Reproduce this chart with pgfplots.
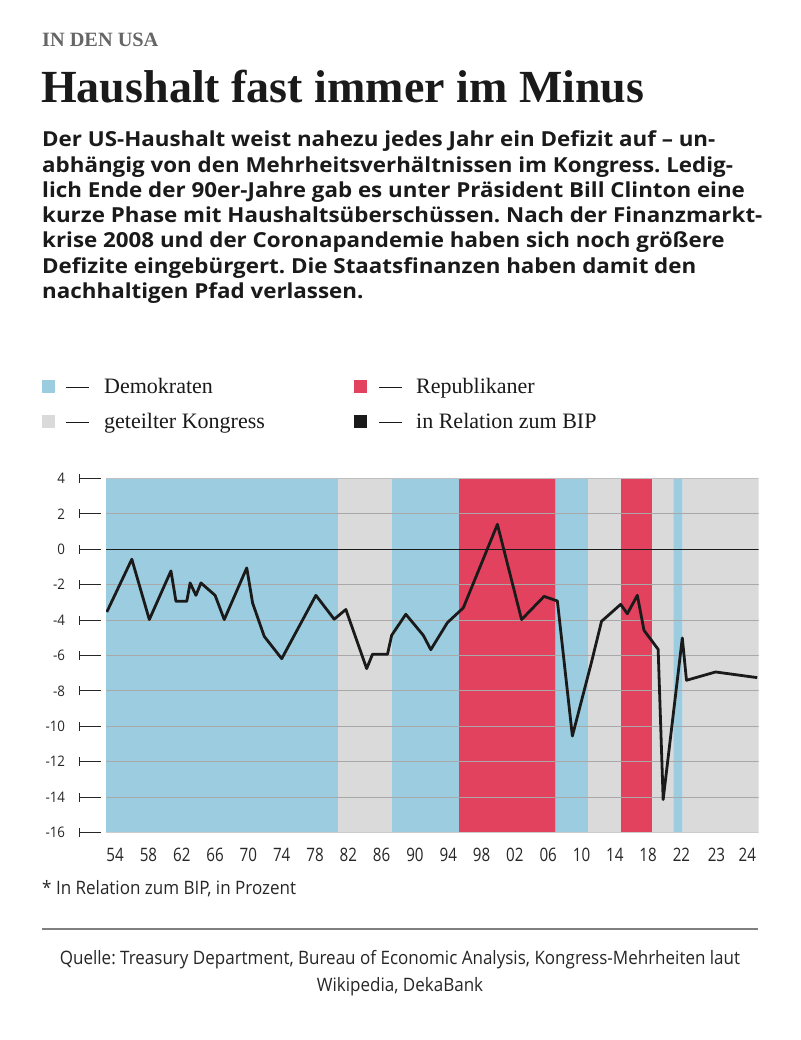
\documentclass[border=0pt]{standalone}
\usepackage{fontspec}
\setmainfont{Liberation Serif}
\newfontfamily\sansfont{Open Sans}[FakeStretch=0.92]
\newfontfamily\bodyfont{Open Sans}[FakeStretch=1.08]
\newfontfamily\condfont{Open Sans}[FakeStretch=0.82]
\usepackage{pgfplots}
\pgfplotsset{compat=1.18}
\frenchspacing

\definecolor{dem}{HTML}{9CCCE0}
\definecolor{rep}{HTML}{E3425F}
\definecolor{split}{HTML}{DADADA}
\definecolor{gridc}{HTML}{A8A8A8}
\definecolor{ink}{HTML}{1A1A1A}

% y tick label with the little "|--" marker
\newcommand\yt[1]{#1\hspace{13.8pt}\rule[0.7pt]{0.9pt}{9pt}\rule[4.75pt]{21pt}{0.9pt}}

\begin{document}
\begin{tikzpicture}
\fill[white] (0,0) rectangle (800pt,-1040pt);

% header
\node[anchor=base west, inner sep=0, text=black!60] at (42pt,-47pt)
  {\fontsize{20.3}{20.3}\selectfont\bfseries IN DEN USA};
\node[anchor=base west, inner sep=0, text=ink] at (41pt,-103pt)
  {\fontsize{46}{46}\selectfont\bfseries Haushalt fast immer im Minus};

\begin{scope}[every node/.style={anchor=base west, inner sep=0, text=ink,
    font=\bodyfont\bfseries\fontsize{20.7}{20.7}\selectfont}]
\node at (42pt,-147pt) {Der US-Haushalt weist nahezu jedes Jahr ein Defizit auf – un-};
\node at (42pt,-172.2pt) {abhängig von den Mehrheitsverhältnissen im Kongress. Ledig-};
\node at (42pt,-197.4pt) {lich Ende der 90er-Jahre gab es unter Präsident Bill Clinton eine};
\node at (42pt,-222.6pt) {kurze Phase mit Haushaltsüberschüssen. Nach der Finanzmarkt-};
\node at (42pt,-247.8pt) {krise 2008 und der Coronapandemie haben sich noch größere};
\node at (42pt,-273pt) {Defizite eingebürgert. Die Staatsfinanzen haben damit den};
\node at (42pt,-298.2pt) {nachhaltigen Pfad verlassen.};
\end{scope}

% legend
\fill[dem] (42pt,-379.5pt) rectangle (55pt,-392.5pt);
\fill[split] (42pt,-414.5pt) rectangle (55pt,-427.5pt);
\fill[rep] (354pt,-379.5pt) rectangle (367pt,-392.5pt);
\fill[ink] (354pt,-414.5pt) rectangle (367pt,-427.5pt);
\draw[ink, line width=1pt] (66pt,-387pt) -- (89pt,-387pt);
\draw[ink, line width=1pt] (66pt,-422pt) -- (89pt,-422pt);
\draw[ink, line width=1pt] (379pt,-387pt) -- (402pt,-387pt);
\draw[ink, line width=1pt] (379pt,-422pt) -- (402pt,-422pt);
\begin{scope}[every node/.style={anchor=base west, inner sep=0, text=ink,
    font=\fontsize{22}{22}\selectfont}]
\node at (104pt,-393pt) {Demokraten};
\node at (104pt,-428pt) {geteilter Kongress};
\node at (416pt,-393pt) {Republikaner};
\node at (416pt,-428pt) {in Relation zum BIP};
\end{scope}

\begin{axis}[
  at={(106pt,-832.5pt)}, anchor=south west,
  scale only axis, width=652.5pt, height=354pt,
  xmin=1952.9, xmax=2031.25, ymin=-16, ymax=4,
  axis line style={draw=none},
  major tick length=0pt,
  ytick={-16,-14,...,4},
  yticklabels={\yt{-16},\yt{-14},\yt{-12},\yt{-10},\yt{-8},\yt{-6},\yt{-4},\yt{-2},\yt{0},\yt{2},\yt{4}},
  xtick={1954,1958,...,2022,2026.2,2029.9},
  xticklabels={54,58,62,66,70,74,78,82,86,90,94,98,02,06,10,14,18,22,23,24},
  tick label style={text=black!85, inner sep=0pt},
  yticklabel style={font=\sansfont\fontsize{14.5}{14.5}\selectfont, anchor=base east, xshift=-5pt, yshift=-5.2pt},
  xticklabel style={font=\condfont\fontsize{18.5}{18.5}\selectfont, anchor=base, yshift=-29.2pt},
]
% congress majorities
\addplot[fill=dem, draw=none] coordinates {(1952.9,-16) (1952.9,4) (1980.77,4) (1980.77,-16) (1952.9,-16)};
\addplot[fill=split, draw=none] coordinates {(1980.77,-16) (1980.77,4) (1987.25,4) (1987.25,-16) (1980.77,-16)};
\addplot[fill=dem, draw=none] coordinates {(1987.25,-16) (1987.25,4) (1995.3,4) (1995.3,-16) (1987.25,-16)};
\addplot[fill=rep, draw=none] coordinates {(1995.3,-16) (1995.3,4) (2006.88,4) (2006.88,-16) (1995.3,-16)};
\addplot[fill=dem, draw=none] coordinates {(2006.88,-16) (2006.88,4) (2010.78,4) (2010.78,-16) (2006.88,-16)};
\addplot[fill=split, draw=none] coordinates {(2010.78,-16) (2010.78,4) (2014.74,4) (2014.74,-16) (2010.78,-16)};
\addplot[fill=rep, draw=none] coordinates {(2014.74,-16) (2014.74,4) (2018.47,4) (2018.47,-16) (2014.74,-16)};
\addplot[fill=split, draw=none] coordinates {(2018.47,-16) (2018.47,4) (2021.02,4) (2021.02,-16) (2018.47,-16)};
\addplot[fill=dem, draw=none] coordinates {(2021.02,-16) (2021.02,4) (2022.15,4) (2022.15,-16) (2021.02,-16)};
\addplot[fill=split, draw=none] coordinates {(2022.15,-16) (2022.15,4) (2031.25,4) (2031.25,-16) (2022.15,-16)};

% grid lines over the bands
\pgfplotsinvokeforeach{-14,-12,-10,-8,-6,-4,-2,2}{
  \addplot[gridc, line width=0.9pt] coordinates {(1952.9,#1) (2031.25,#1)};
}
\addplot[black!20, line width=1.2pt] coordinates {(1952.9,-16) (2031.25,-16)};
\addplot[black!25, line width=0.8pt] coordinates {(1952.9,4) (2031.25,4)};
% zero line
\addplot[ink, line width=1.4pt] coordinates {(1952.9,0) (2031.25,0)};

% budget balance in % of GDP
\addplot[ink, line width=2.8pt, line join=round] table {
1953.0 -3.54
1956.0 -0.56
1958.1 -3.97
1960.7 -1.22
1961.3 -2.94
1962.6 -2.94
1963.0 -1.90
1963.7 -2.60
1964.3 -1.90
1966.0 -2.60
1967.1 -3.97
1969.8 -1.05
1970.5 -3.03
1971.9 -4.92
1974.0 -6.18
1978.1 -2.60
1980.3 -3.95
1981.7 -3.40
1984.2 -6.74
1984.9 -5.93
1986.7 -5.93
1987.2 -4.86
1988.9 -3.67
1991.0 -4.86
1991.9 -5.67
1993.9 -4.14
1995.8 -3.31
1999.9 1.41
2002.8 -3.97
2005.5 -2.66
2007.1 -2.92
2008.9 -10.55
2011.2 -6.37
2012.4 -4.07
2014.7 -3.11
2015.5 -3.64
2016.7 -2.60
2017.5 -4.58
2019.2 -5.65
2019.8 -14.14
2022.1 -5.01
2022.6 -7.40
2026.1 -6.93
2031.1 -7.25
};
\end{axis}

% notes
\node[anchor=base west, inner sep=0, text=black!85, font=\sansfont\fontsize{18.5}{18.5}\selectfont]
  at (42pt,-894pt) {* In Relation zum BIP, in Prozent};
\draw[black!50, line width=1.3pt] (42pt,-929pt) -- (758pt,-929pt);
\begin{scope}[every node/.style={anchor=base, inner sep=0, text=black!85,
    font=\sansfont\fontsize{18.5}{18.5}\selectfont}]
\node at (400pt,-964pt) {Quelle: Treasury Department, Bureau of Economic Analysis, Kongress-Mehrheiten laut};
\node at (400pt,-991pt) {Wikipedia, DekaBank};
\end{scope}
\end{tikzpicture}
\end{document}
